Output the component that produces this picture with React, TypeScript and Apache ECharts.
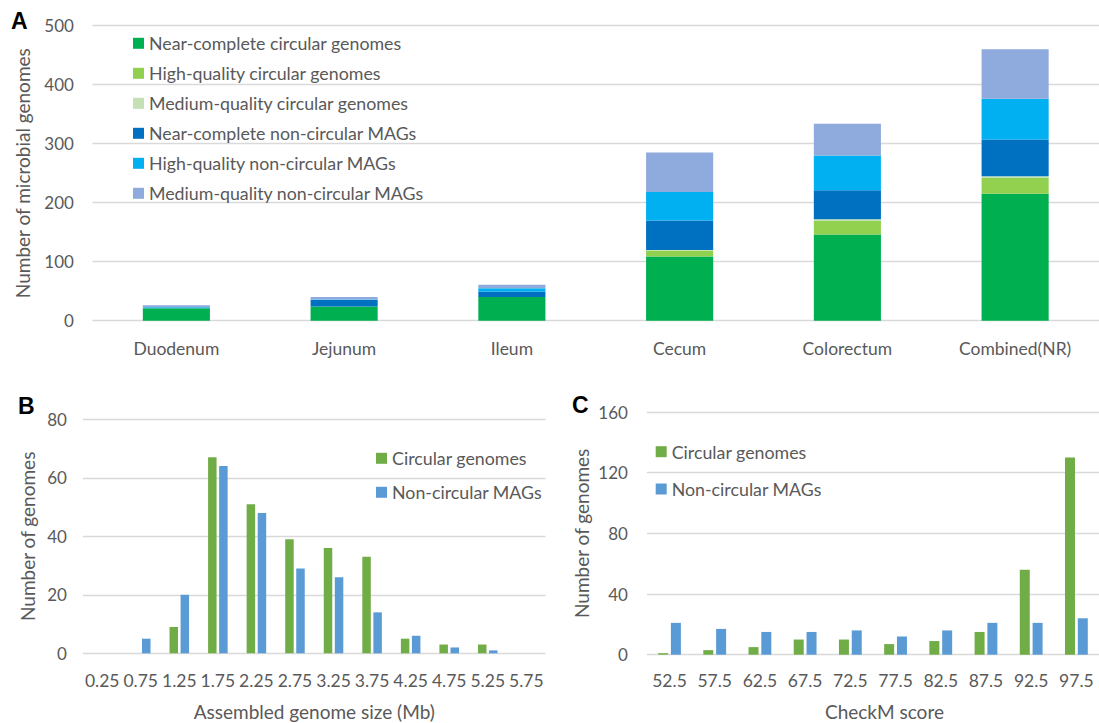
import React, { useEffect, useRef } from "react";
import * as echarts from "echarts";

// Panel A: genomes per gut segment, stacked by quality tier
const segments = ["Duodenum", "Jejunum", "Ileum", "Cecum", "Colorectum", "Combined(NR)"];
const nearCompleteCircular = [21, 24, 40, 109, 146, 215];
const highQualityCircular = [0, 0, 0, 10, 24, 27];
const mediumQualityCircular = [0, 0, 0, 1, 2, 3];
const nearCompleteMAGs = [0, 11, 9, 50, 49, 62];
const highQualityMAGs = [2, 1, 6, 48, 59, 69];
const mediumQualityMAGs = [3, 4, 6, 67, 54, 84];

// Panel B: assembled genome size histogram (Mb bin centres)
const sizeBins = ["0.25", "0.75", "1.25", "1.75", "2.25", "2.75", "3.25", "3.75", "4.25", "4.75", "5.25", "5.75"];
const sizeCircular = [0, 0, 9, 67, 51, 39, 36, 33, 5, 3, 3, 0];
const sizeMAGs = [0, 5, 20, 64, 48, 29, 26, 14, 6, 2, 1, 0];

// Panel C: CheckM score histogram
const checkmBins = ["52.5", "57.5", "62.5", "67.5", "72.5", "77.5", "82.5", "87.5", "92.5", "97.5"];
const checkmCircular = [1, 3, 5, 10, 10, 7, 9, 15, 56, 130];
const checkmMAGs = [21, 17, 15, 15, 16, 12, 16, 21, 21, 24];

const FONT = "Lato";
const GREY = "#595959";
const GRID_LINE = "#D9D9D9";

const stackNames = [
  "Near-complete circular genomes",
  "High-quality circular genomes",
  "Medium-quality circular genomes",
  "Near-complete non-circular MAGs",
  "High-quality non-circular MAGs",
  "Medium-quality non-circular MAGs",
];
const stackColors = ["#00B050", "#92D050", "#C5E0B4", "#0070C0", "#00B0F0", "#8FAADC"];
const stackData = [
  nearCompleteCircular,
  highQualityCircular,
  mediumQualityCircular,
  nearCompleteMAGs,
  highQualityMAGs,
  mediumQualityMAGs,
];

const CIRC = "Circular genomes";
const MAGS = "Non-circular MAGs";
const CIRC_COLOR = "#70AD47";
const MAGS_COLOR = "#5B9BD5";

function valueAxis(gridIndex: number, max: number, interval: number, name: string, nameGap: number, labelMargin: number) {
  return {
    type: "value",
    gridIndex,
    min: 0,
    max,
    interval,
    name,
    nameLocation: "middle",
    nameGap,
    nameRotate: 90,
    nameTextStyle: { color: GREY, fontFamily: FONT, fontSize: 19, lineHeight: 22 },
    axisLine: { show: false },
    axisTick: { show: false },
    axisLabel: { color: GREY, fontFamily: FONT, fontSize: 17, margin: labelMargin },
    splitLine: { lineStyle: { color: GRID_LINE, width: 1.4 } },
  };
}

function categoryAxis(gridIndex: number, data: string[], labelMargin: number, name?: string, nameGap?: number, namePadLeft?: number) {
  return {
    type: "category",
    gridIndex,
    data,
    name: name || "",
    nameLocation: "middle",
    nameGap: nameGap || 0,
    nameTextStyle: {
      color: GREY,
      fontFamily: FONT,
      fontSize: 19,
      lineHeight: 22,
      padding: [0, 0, 0, namePadLeft || 0],
    },
    axisLine: { show: false },
    axisTick: { show: false },
    axisLabel: {
      color: GREY,
      fontFamily: FONT,
      fontSize: 17.5,
      lineHeight: 20,
      margin: labelMargin,
      interval: 0,
    },
  };
}

export default function App() {
  const ref = useRef<HTMLDivElement>(null);

  useEffect(() => {
    if (!ref.current) return;
    const chart = echarts.init(ref.current, undefined, { renderer: "svg" });

    const stackSeries = stackNames.map((name, i) => ({
      name,
      type: "bar",
      xAxisIndex: 0,
      yAxisIndex: 0,
      stack: "genomes",
      barWidth: "40%",
      data: stackData[i],
      itemStyle: { color: stackColors[i] },
    }));

    const legendText = (size: number) => ({
      color: GREY,
      fontFamily: FONT,
      fontSize: size,
      lineHeight: 20,
    });

    chart.setOption({
      animation: false,
      backgroundColor: "#ffffff",
      grid: [
        { left: 92.5, top: 25.7, width: 1011, height: 295 },
        { left: 82.9, top: 419.3, width: 462.7, height: 234 },
        { left: 646.9, top: 412, width: 455, height: 244 },
      ],
      xAxis: [
        categoryAxis(0, segments, 17.6),
        categoryAxis(1, sizeBins, 16.7, "Assembled genome size (Mb)", 46.7),
        categoryAxis(2, checkmBins, 15.7, "CheckM score", 45.3, 23),
      ],
      yAxis: [
        valueAxis(0, 500, 100, "Number of microbial genomes", 55, 18.6),
        valueAxis(1, 80, 20, "Number of genomes", 44, 16),
        valueAxis(2, 160, 40, "Number of genomes", 54, 19),
      ],
      legend: [
        {
          data: stackNames,
          orient: "vertical",
          left: 133,
          top: 33.3,
          padding: 0,
          itemWidth: 11,
          itemHeight: 11,
          itemGap: 10,
          icon: "rect",
          selectedMode: false,
          textStyle: legendText(17.8),
        },
        {
          data: [CIRC, MAGS],
          orient: "vertical",
          left: 376,
          top: 448.3,
          padding: 0,
          itemWidth: 11,
          itemHeight: 11,
          itemGap: 14,
          icon: "rect",
          selectedMode: false,
          textStyle: legendText(17.8),
        },
        {
          data: [CIRC, MAGS],
          orient: "vertical",
          left: 655.7,
          top: 441.7,
          padding: 0,
          itemWidth: 11,
          itemHeight: 11,
          itemGap: 17.3,
          icon: "rect",
          selectedMode: false,
          textStyle: legendText(17.8),
        },
      ],
      graphic: [
        { type: "text", left: 11, top: 9, style: { text: "A", fontFamily: "Liberation Sans", fontWeight: "bold", fontSize: 23, fill: "#000" } },
        { type: "text", left: 18, top: 394, style: { text: "B", fontFamily: "Liberation Sans", fontWeight: "bold", fontSize: 23, fill: "#000" } },
        { type: "text", left: 572, top: 393, style: { text: "C", fontFamily: "Liberation Sans", fontWeight: "bold", fontSize: 23, fill: "#000" } },
      ],
      series: [
        ...stackSeries,
        {
          name: CIRC,
          type: "bar",
          xAxisIndex: 1,
          yAxisIndex: 1,
          barWidth: 8.5,
          barGap: "30%",
          data: sizeCircular,
          itemStyle: { color: CIRC_COLOR },
        },
        {
          name: MAGS,
          type: "bar",
          xAxisIndex: 1,
          yAxisIndex: 1,
          barWidth: 8.5,
          barGap: "30%",
          data: sizeMAGs,
          itemStyle: { color: MAGS_COLOR },
        },
        {
          name: CIRC,
          type: "bar",
          xAxisIndex: 2,
          yAxisIndex: 2,
          barWidth: 10,
          barGap: "28%",
          data: checkmCircular,
          itemStyle: { color: CIRC_COLOR },
        },
        {
          name: MAGS,
          type: "bar",
          xAxisIndex: 2,
          yAxisIndex: 2,
          barWidth: 10,
          barGap: "28%",
          data: checkmMAGs,
          itemStyle: { color: MAGS_COLOR },
        },
      ],
    });

    return () => chart.dispose();
  }, []);

  return (
    <div
      ref={ref}
      style={{ position: "fixed", left: 0, top: 0, width: 1099, height: 723, background: "#fff" }}
    />
  );
}
